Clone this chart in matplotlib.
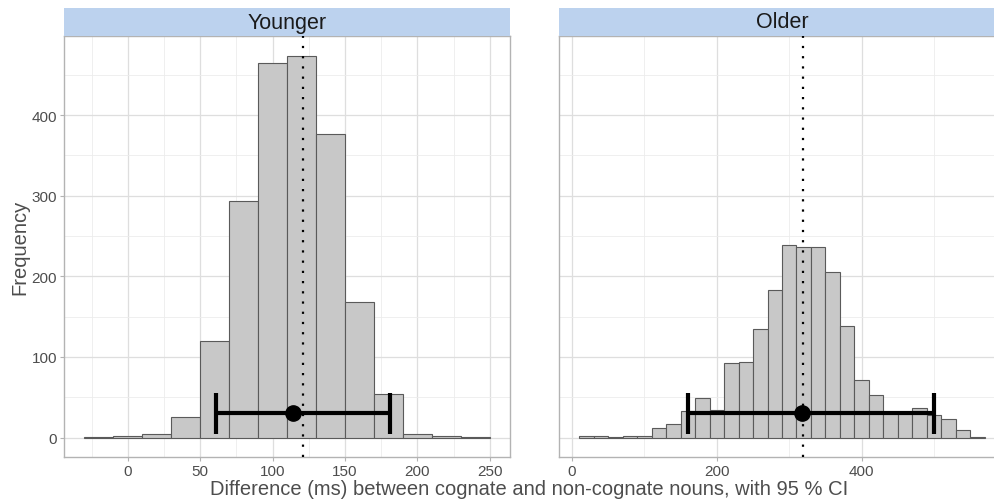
#!/usr/bin/env python3
"""Bootstrap distributions of the cognate effect, younger vs older speakers.

Two faceted histograms (ggplot theme_light look) with the mean, its 95 % CI
as a horizontal error bar, and a dotted reference line.
"""
import matplotlib
matplotlib.use("Agg")
import matplotlib.pyplot as plt
from matplotlib.patches import Rectangle
from matplotlib.ticker import MultipleLocator

# ---- data -----------------------------------------------------------------
panels = ["Younger", "Older"]

younger_centers = [-20, 0, 20, 40, 60, 80, 100, 120, 140, 160, 180, 200, 220, 240]
younger_counts = [1, 2, 4, 26, 120, 294, 465, 473, 376, 168, 54, 5, 2, 1]

older_centers = [20, 40, 60, 80, 100, 120, 140, 160, 180, 200, 220, 240, 260,
                 280, 300, 320, 340, 360, 380, 400, 420, 440, 460, 480, 500,
                 520, 540, 560]
older_counts = [2, 2, 1, 2, 2, 12, 17, 33, 49, 34, 93, 94, 135, 183, 239, 236,
                237, 206, 138, 72, 53, 32, 32, 37, 28, 23, 9, 1]

bin_width = [20, 20]
means = [114, 318]
ci_low = [61, 160]
ci_high = [181, 500]
ref_line = [121, 319]
ci_level = 30          # frequency at which the CI bar is drawn
cap_half = 25

# ---- style -------------------------------------------------------------------
STRIP = "#bcd2ee"
BAR_FC = "#c8c8c8"
BAR_EC = "#5a5a5a"
BORDER = "#b3b3b3"
GRID_MAJ = "#dedede"
GRID_MIN = "#ececec"
TXT = "#4d4d4d"

plt.rcParams.update({
    "font.family": ["Liberation Sans", "DejaVu Sans"],
    "font.size": 11,
})

W, H = 995, 502


def fx(px):
    return px / W


def fy(py):
    return 1 - py / H


def style_axes(ax, major, minor, show_y):
    ax.set_facecolor("white")
    ax.xaxis.set_major_locator(MultipleLocator(major))
    ax.xaxis.set_minor_locator(MultipleLocator(minor))
    ax.yaxis.set_major_locator(MultipleLocator(100))
    ax.yaxis.set_minor_locator(MultipleLocator(50))
    ax.grid(True, which="major", color=GRID_MAJ, lw=0.9, zorder=0)
    ax.grid(True, which="minor", color=GRID_MIN, lw=0.6, zorder=0)
    ax.set_axisbelow(True)
    for s in ax.spines.values():
        s.set_color(BORDER)
        s.set_linewidth(1.0)
    ax.tick_params(which="minor", length=0)
    ax.tick_params(which="major", color=BORDER, length=3, width=0.8,
                   labelcolor=TXT, labelsize=11, pad=2)
    if not show_y:
        ax.tick_params(axis="y", which="both", left=False, labelleft=False)


def main():
    fig = plt.figure(figsize=(W / 100, H / 100), dpi=100)

    top, bot = 37, 458
    boxes = [(64, 446), (559, 446)]
    xlims = [(-44, 264), (-18, 598)]
    ticks = [(50, 25), (200, 100)]
    centers = [younger_centers, older_centers]
    counts = [younger_counts, older_counts]

    for i, name in enumerate(panels):
        x0, w = boxes[i]
        ax = fig.add_axes([fx(x0), fy(bot), w / W, (bot - top) / H])
        style_axes(ax, *ticks[i], show_y=(i == 0))
        if i == 1:
            ax.spines["right"].set_visible(False)

        ax.bar(centers[i], counts[i], width=bin_width[i], color=BAR_FC,
               edgecolor=BAR_EC, linewidth=0.8, zorder=2)
        ax.axvline(ref_line[i], color="black", lw=1.6,
                   linestyle=(0, (1, 3.6)), zorder=3)
        ax.hlines(ci_level, ci_low[i], ci_high[i], color="black", lw=3.0,
                  zorder=4)
        ax.vlines([ci_low[i], ci_high[i]], ci_level - cap_half,
                  ci_level + cap_half, color="black", lw=3.0, zorder=4)
        ax.plot([means[i]], [ci_level], "o", color="black", ms=11, zorder=5)

        ax.set_xlim(*xlims[i])
        ax.set_ylim(-24, 498)

        # facet strip
        fig.patches.append(Rectangle((fx(x0), fy(top)), w / W, (top - 9) / H,
                                     transform=fig.transFigure, fc=STRIP,
                                     ec="none", zorder=1))
        fig.text(fx(x0 + w / 2), fy(23), name, ha="center", va="center",
                 fontsize=15.5, color="#1a1a1a")

    fig.text(fx(20), fy(247), "Frequency", rotation=90, ha="center",
             va="center", fontsize=14.5, color=TXT)
    fig.text(fx(529), fy(490),
             "Difference (ms) between cognate and non-cognate nouns, with 95 % CI",
             ha="center", va="center", fontsize=14.5, color=TXT)

    fig.savefig("out.png", dpi=100)


if __name__ == "__main__":
    main()
